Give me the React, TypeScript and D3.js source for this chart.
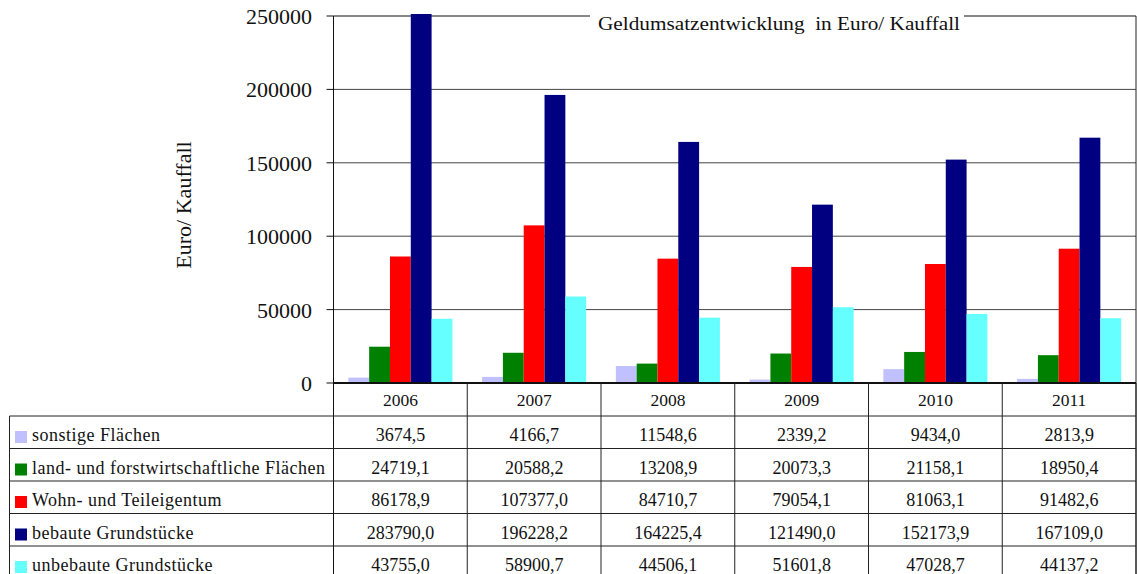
import React from "react";
import * as d3 from "d3";

// Geldumsatz per Kauffall, 2006–2011
const years = ["2006", "2007", "2008", "2009", "2010", "2011"];
const seriesNames = [
  "sonstige Flächen",
  "land- und forstwirtschaftliche Flächen",
  "Wohn- und Teileigentum",
  "bebaute Grundstücke",
  "unbebaute Grundstücke",
];
const sonstigeFlaechen = [3674.5, 4166.7, 11548.6, 2339.2, 9434.0, 2813.9];
const landForstFlaechen = [24719.1, 20588.2, 13208.9, 20073.3, 21158.1, 18950.4];
const wohnTeileigentum = [86178.9, 107377.0, 84710.7, 79054.1, 81063.1, 91482.6];
const bebauteGrundstuecke = [283790.0, 196228.2, 164225.4, 121490.0, 152173.9, 167109.0];
const unbebauteGrundstuecke = [43755.0, 58900.7, 44506.1, 51601.8, 47028.7, 44137.2];
const seriesValues = [
  sonstigeFlaechen,
  landForstFlaechen,
  wohnTeileigentum,
  bebauteGrundstuecke,
  unbebauteGrundstuecke,
];
const seriesColors = ["#C0C0FF", "#008000", "#FF0000", "#000080", "#66FFFF"];
const yTicks = [0, 50000, 100000, 150000, 200000, 250000];

const W = 1137;
const H = 574;
const plotLeft = 333.5;
const plotRight = 1136;
const plotTop = 16;
const plotBottom = 383;
const headerBottom = 416;
const rowH = 32.5;
const tableLeft = 9.5;
const serif = "'Liberation Serif', 'Times New Roman', serif";

const fmt = (v: number) => v.toFixed(1).replace(".", ",");

export default function App() {
  const x = d3.scaleBand<string>().domain(years).range([plotLeft, plotRight]).padding(0);
  const bw = x.bandwidth();
  const gap = bw * 0.111;
  const xs = d3
    .scaleBand<string>()
    .domain(seriesNames)
    .range([gap, bw - gap])
    .padding(0);
  const y = d3.scaleLinear().domain([0, 250000]).range([plotBottom, plotTop]);

  const rowTops = seriesNames.map((_, i) => headerBottom + i * rowH);

  return (
    <svg
      width={W}
      height={H}
      style={{ position: "absolute", left: 0, top: 0, background: "#fff" }}
      fontFamily={serif}
    >
      <defs>
        <clipPath id="plotClip">
          <rect x={plotLeft} y={plotTop - 2} width={plotRight - plotLeft} height={plotBottom - plotTop + 2} />
        </clipPath>
      </defs>
      <rect x={0} y={0} width={W} height={H} fill="#fff" />

      {/* gridlines */}
      {yTicks.slice(1).map((t) => (
        <line
          key={"g" + t}
          x1={plotLeft}
          x2={plotRight}
          y1={y(t)}
          y2={y(t)}
          stroke={t === 250000 ? "#111" : "#444"}
          strokeWidth={1}
        />
      ))}

      {/* bars */}
      <g clipPath="url(#plotClip)">
        {years.map((yr, i) =>
          seriesNames.map((s, j) => {
            const v = seriesValues[j][i];
            const top = y(Math.min(v, 251500));
            return (
              <rect
                key={yr + s}
                x={(x(yr) as number) + (xs(s) as number)}
                y={top}
                width={xs.bandwidth()}
                height={plotBottom - top}
                fill={seriesColors[j]}
              />
            );
          })
        )}
      </g>

      {/* plot frame: right border and value axis */}
      <line x1={plotRight} x2={plotRight} y1={plotTop} y2={H} stroke="#222" strokeWidth={1} />
      <line x1={plotLeft} x2={plotLeft} y1={plotTop} y2={H} stroke="#111" strokeWidth={1} />

      {/* y ticks and labels */}
      {yTicks.map((t) => (
        <g key={"t" + t}>
          <line x1={plotLeft - 7} x2={plotLeft} y1={y(t)} y2={y(t)} stroke="#111" />
          <text x={312} y={y(t) + 8} fontSize={22} textAnchor="end" fill="#111">
            {t}
          </text>
        </g>
      ))}

      <text
        transform={`translate(191,205) rotate(-90)`}
        fontSize={22}
        textAnchor="middle"
        fill="#111"
      >
        Euro/ Kauffall
      </text>

      {/* title */}
      <rect x={590} y={6} width={374} height={24} fill="#fff" />
      <text
        x={779}
        y={30}
        fontSize={19}
        textAnchor="middle"
        fill="#111"
        textLength={362}
        lengthAdjust="spacingAndGlyphs"
        style={{ whiteSpace: "pre" }}
      >
        {"Geldumsatzentwicklung\u00A0 in Euro/ Kauffall"}
      </text>

      {/* data table */}
      <line x1={plotLeft} x2={plotRight} y1={plotBottom} y2={plotBottom} stroke="#111" strokeWidth={2} />
      {years.map((yr) => (
        <g key={"c" + yr}>
          <line
            x1={(x(yr) as number) + bw}
            x2={(x(yr) as number) + bw}
            y1={plotBottom}
            y2={H}
            stroke="#222"
          />
          <text
            x={(x(yr) as number) + bw / 2}
            y={406}
            fontSize={17.5}
            textAnchor="middle"
            fill="#111"
          >
            {yr}
          </text>
        </g>
      ))}
      <line x1={tableLeft} x2={tableLeft} y1={headerBottom} y2={H} stroke="#222" />
      {rowTops.map((rt) => (
        <line key={"r" + rt} x1={tableLeft} x2={plotRight} y1={rt} y2={rt} stroke="#222" />
      ))}
      {seriesNames.map((s, j) => (
        <g key={"row" + s}>
          <rect x={15} y={rowTops[j] + 15} width={12} height={12} fill={seriesColors[j]} />
          <text
            x={32}
            y={rowTops[j] + 25}
            fontSize={18}
            letterSpacing={0.5}
            fill="#111"
          >
            {s}
          </text>
          {years.map((yr, i) => (
            <text
              key={s + yr}
              x={(x(yr) as number) + bw / 2}
              y={rowTops[j] + 25}
              fontSize={18}
              textAnchor="middle"
              fill="#111"
            >
              {fmt(seriesValues[j][i])}
            </text>
          ))}
        </g>
      ))}
    </svg>
  );
}
